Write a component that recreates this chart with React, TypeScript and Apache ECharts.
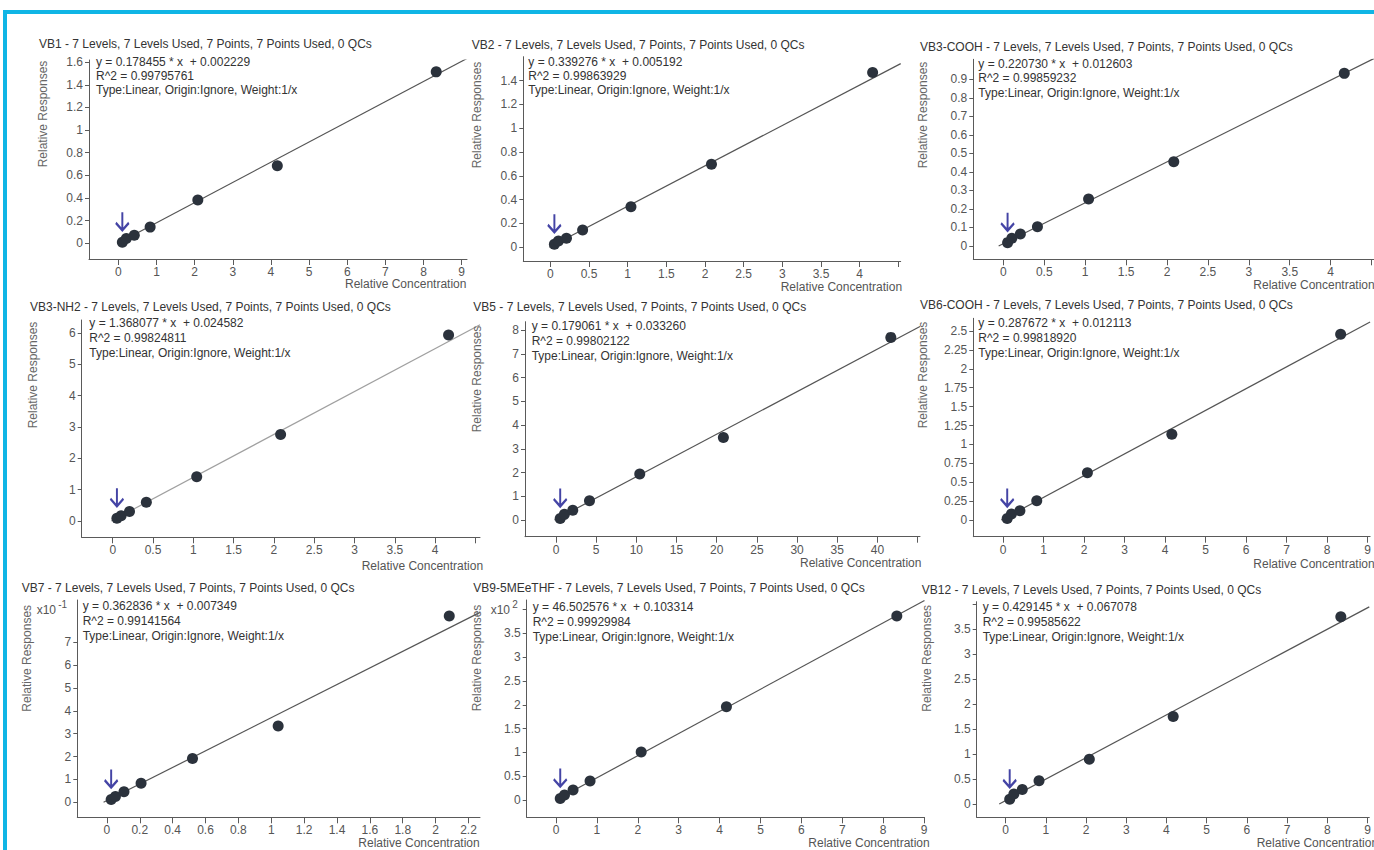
import React, { useEffect, useRef } from "react";
import * as echarts from "echarts";

// ---------- data ----------
const titles = [
  "VB1 - 7 Levels, 7 Levels Used, 7 Points, 7 Points Used, 0 QCs",
  "VB2 - 7 Levels, 7 Levels Used, 7 Points, 7 Points Used, 0 QCs",
  "VB3-COOH - 7 Levels, 7 Levels Used, 7 Points, 7 Points Used, 0 QCs",
  "VB3-NH2 - 7 Levels, 7 Levels Used, 7 Points, 7 Points Used, 0 QCs",
  "VB5 - 7 Levels, 7 Levels Used, 7 Points, 7 Points Used, 0 QCs",
  "VB6-COOH - 7 Levels, 7 Levels Used, 7 Points, 7 Points Used, 0 QCs",
  "VB7 - 7 Levels, 7 Levels Used, 7 Points, 7 Points Used, 0 QCs",
  "VB9-5MEeTHF - 7 Levels, 7 Levels Used, 7 Points, 7 Points Used, 0 QCs",
  "VB12 - 7 Levels, 7 Levels Used, 7 Points, 7 Points Used, 0 QCs",
];
const slopes = [0.178455, 0.339276, 0.22073, 1.368077, 0.179061, 0.287672, 0.362836, 46.502576, 0.429145];
const intercepts = [0.002229, 0.005192, 0.012603, 0.024582, 0.03326, 0.012113, 0.007349, 0.103314, 0.067078];
const rSquared = ["0.99795761", "0.99863929", "0.99859232", "0.99824811", "0.99802122", "0.99818920", "0.99141564", "0.99929984", "0.99585622"];

const concA = [0.104, 0.208, 0.417, 0.833, 2.083, 4.167, 8.333];
const concB = [0.052, 0.104, 0.208, 0.417, 1.042, 2.083, 4.167];
const concC = [0.521, 1.042, 2.083, 4.167, 10.42, 20.83, 41.67];
const concD = [0.026, 0.052, 0.104, 0.208, 0.521, 1.042, 2.083];

const respVB1 = [0.008, 0.041, 0.071, 0.142, 0.381, 0.685, 1.515];
const respVB2 = [0.025, 0.053, 0.076, 0.145, 0.341, 0.697, 1.467];
const respVB3COOH = [0.018, 0.042, 0.065, 0.104, 0.254, 0.455, 0.932];
const respVB3NH2 = [0.09, 0.17, 0.3, 0.595, 1.41, 2.76, 5.93];
const respVB5 = [0.07, 0.24, 0.41, 0.81, 1.94, 3.48, 7.69];
const respVB6COOH = [0.022, 0.08, 0.123, 0.255, 0.626, 1.134, 2.456];
const respVB7 = [0.012, 0.025, 0.046, 0.083, 0.192, 0.334, 0.815];
const respVB9 = [3, 10.5, 21, 40, 100.8, 196, 386.4];
const respVB12 = [0.094, 0.2, 0.29, 0.467, 0.896, 1.75, 3.75];

const concs = [concA, concB, concB, concB, concC, concA, concD, concA, concA];
const resps = [respVB1, respVB2, respVB3COOH, respVB3NH2, respVB5, respVB6COOH, respVB7, respVB9, respVB12];

// tick labels
const yLab1 = [0, 0.2, 0.4, 0.6, 0.8, 1, 1.2, 1.4, 1.6];
const yLab2 = [0, 0.2, 0.4, 0.6, 0.8, 1, 1.2, 1.4];
const yLab3 = [0, 0.1, 0.2, 0.3, 0.4, 0.5, 0.6, 0.7, 0.8, 0.9];
const yLab4 = [0, 1, 2, 3, 4, 5, 6];
const yLab5 = [0, 1, 2, 3, 4, 5, 6, 7, 8];
const yLab6 = [0, 0.25, 0.5, 0.75, 1, 1.25, 1.5, 1.75, 2, 2.25, 2.5];
const yLab7 = [0, 0.1, 0.2, 0.3, 0.4, 0.5, 0.6, 0.7];
const yLab8 = [0, 50, 100, 150, 200, 250, 300, 350];
const yTick8 = [0, 50, 100, 150, 200, 250, 300, 350, 400];
const yLab9 = [0, 0.5, 1, 1.5, 2, 2.5, 3, 3.5];
const yTick9 = [0, 0.5, 1, 1.5, 2, 2.5, 3, 3.5, 4];
const xLab0to9 = [0, 1, 2, 3, 4, 5, 6, 7, 8, 9];
const xLabHalf = [0, 0.5, 1, 1.5, 2, 2.5, 3, 3.5, 4];
const xTickHalf = [0, 0.5, 1, 1.5, 2, 2.5, 3, 3.5, 4, 4.5];
const xLab5 = [0, 5, 10, 15, 20, 25, 30, 35, 40];
const xTick5 = [0, 5, 10, 15, 20, 25, 30, 35, 40, 45];
const xLab7 = [0, 0.2, 0.4, 0.6, 0.8, 1, 1.2, 1.4, 1.6, 1.8, 2, 2.2];

const yLabels = [yLab1, yLab2, yLab3, yLab4, yLab5, yLab6, yLab7, yLab8, yLab9];
const yTicks = [yLab1, yLab2, yLab3, yLab4, yLab5, yLab6, yLab7, yTick8, yTick9];
const xLabels = [xLab0to9, xLabHalf, xLabHalf, xLabHalf, xLab5, xLab0to9, xLab7, xLab0to9, xLab0to9];
const xTicks = [xLab0to9, xTickHalf, xTickHalf, xTickHalf, xTick5, xLab0to9, xLab7, xLab0to9, xLab0to9];
const yScale = [1, 1, 1, 1, 1, 1, 10, 0.01, 1];
const exponents = ["", "", "", "", "", "", "-1", "2", ""];

// ---------- layout (pixels & axis ranges) ----------
const layout = [
  { gl: 89, gt: 60, gr: 467, gb: 259, xMin: -0.77, xMax: 9.14, yMin: -0.14, yMax: 1.62, tx: 39, ty: 44, ex: 96, ey: 62, es: 14, ynx: 43, yny: 114, xnx: 345, xny: 284 },
  { gl: 523.3, gt: 56.7, gr: 900.7, gb: 261, xMin: -0.35, xMax: 4.53, yMin: -0.115, yMax: 1.6, tx: 471.7, ty: 45, ex: 528.3, ey: 61.7, es: 14, ynx: 476.7, yny: 115, xnx: 780.7, xny: 286.7 },
  { gl: 973.3, gt: 59.3, gr: 1374, gb: 259.3, xMin: -0.367, xMax: 4.53, yMin: -0.072, yMax: 1.008, tx: 920, ty: 46.7, ex: 978.3, ey: 64, es: 14.3, ynx: 923.3, yny: 115, xnx: 1253.3, xny: 285 },
  { gl: 81.7, gt: 320, gr: 480, gb: 537.3, xMin: -0.385, xMax: 4.557, yMin: -0.52, yMax: 6.41, tx: 30, ty: 306.7, ex: 89.3, ey: 323.3, es: 15, ynx: 33.3, yny: 375, xnx: 361.7, xny: 566 },
  { gl: 525, gt: 321.7, gr: 920, gb: 536.7, xMin: -3.86, xMax: 45.3, yMin: -0.7, yMax: 8.35, tx: 473.3, ty: 307, ex: 531.7, ey: 326, es: 15, ynx: 476.7, yny: 379, xnx: 800, xny: 563.3 },
  { gl: 973.3, gt: 318.3, gr: 1374, gb: 536.7, xMin: -0.733, xMax: 9.06, yMin: -0.22, yMax: 2.668, tx: 920, ty: 305, ex: 978.3, ey: 323.3, es: 15, ynx: 923.3, yny: 375, xnx: 1253.3, xny: 564 },
  { gl: 77.3, gt: 600, gr: 480, gb: 817.3, xMin: -0.18, xMax: 2.27, yMin: -0.0656, yMax: 0.885, tx: 21.7, ty: 588.3, ex: 82.7, ey: 606, es: 15, ynx: 26.7, yny: 658.3, xnx: 358.3, xny: 842.5, px: 36.7, py: 610 },
  { gl: 526.7, gt: 600, gr: 924.5, gb: 817.3, xMin: -0.716, xMax: 9.01, yMin: -36.3, yMax: 420, tx: 473.3, ty: 588.3, ex: 532.7, ey: 606.7, es: 15, ynx: 477.3, yny: 658, xnx: 808.3, xny: 842.5, px: 490.7, py: 610 },
  { gl: 976.7, gt: 601.7, gr: 1376, gb: 817.3, xMin: -0.716, xMax: 9.04, yMin: -0.267, yMax: 4.05, tx: 921.7, ty: 590, ex: 982.7, ey: 606.7, es: 15, ynx: 926.7, yny: 658.3, xnx: 1256.7, xny: 842.5 },
];

const FONT = "'Liberation Sans', Arial, sans-serif";
const AXIS_COLOR = "#5a5a5a";
const LABEL_COLOR = "#555";
const TEXT_COLOR = "#333";
const POINT_COLOR = "#2b323c";
const ARROW_COLOR = "#15158e";
const FIT_COLORS = ["#555", "#555", "#555", "#a0a0a0", "#555", "#555", "#555", "#555", "#555"];

function fmt(v: number, s: number) {
  return String(Math.round(v * s * 1000) / 1000);
}

function buildOption() {
  const grid: any[] = [];
  const xAxis: any[] = [];
  const yAxis: any[] = [];
  const series: any[] = [];
  const graphic: any[] = [];

  graphic.push({ type: "rect", shape: { x: 3, y: 10, width: 1371, height: 4 }, style: { fill: "#10b5e5" }, silent: true });
  graphic.push({ type: "rect", shape: { x: 3, y: 10, width: 4, height: 840 }, style: { fill: "#10b5e5" }, silent: true });

  layout.forEach((L, i) => {
    grid.push({ left: L.gl, top: L.gt, width: L.gr - L.gl, height: L.gb - L.gt, containLabel: false });
    xAxis.push({
      type: "value",
      gridIndex: i,
      min: L.xMin,
      max: L.xMax,
      splitLine: { show: false },
      axisLine: { show: true, onZero: false, lineStyle: { color: AXIS_COLOR, width: 1 } },
      axisTick: { show: true, inside: false, length: 6, customValues: xTicks[i], lineStyle: { color: AXIS_COLOR } },
      axisLabel: { show: true, customValues: xLabels[i], margin: 7, color: LABEL_COLOR, fontSize: 12, fontFamily: FONT, formatter: (v: number) => fmt(v, 1) },
    });
    yAxis.push({
      type: "value",
      gridIndex: i,
      min: L.yMin,
      max: L.yMax,
      splitLine: { show: false },
      axisLine: { show: true, onZero: false, lineStyle: { color: AXIS_COLOR, width: 1 } },
      axisTick: { show: true, inside: false, length: 4, customValues: yTicks[i], lineStyle: { color: AXIS_COLOR } },
      axisLabel: { show: true, customValues: yLabels[i], margin: 6, color: LABEL_COLOR, fontSize: 12, fontFamily: FONT, formatter: (v: number) => fmt(v, yScale[i]) },
    });

    const m = slopes[i];
    const b = intercepts[i];
    const x0 = -b / m;
    series.push({
      type: "line",
      xAxisIndex: i,
      yAxisIndex: i,
      data: [
        [x0, 0],
        [L.xMax, m * L.xMax + b],
      ],
      showSymbol: false,
      symbol: "none",
      lineStyle: { color: FIT_COLORS[i], width: 1.2 },
      clip: true,
      z: 2,
      silent: true,
    });
    const pts = concs[i].map((c, k) => [c, resps[i][k]]);
    series.push({
      type: "scatter",
      xAxisIndex: i,
      yAxisIndex: i,
      data: pts,
      symbol: "circle",
      symbolSize: 11,
      itemStyle: { color: POINT_COLOR, opacity: 1 },
      z: 3,
      silent: true,
    });
    series.push({
      type: "scatter",
      xAxisIndex: i,
      yAxisIndex: i,
      data: [pts[0]],
      symbol: "path://M6,0 L6,17 M0.5,10 L6,17 L11.5,10",
      symbolSize: [13, 18],
      symbolOffset: [0, -21],
      itemStyle: { color: "rgba(0,0,0,0)", borderColor: ARROW_COLOR, borderWidth: 2.3 },
      z: 4,
      silent: true,
    });

    const textStyle = (t: string, x: number, y: number, extra: any = {}) => ({
      type: "text",
      x,
      y,
      silent: true,
      style: { text: t, fill: TEXT_COLOR, fontSize: 12, fontFamily: FONT, textAlign: "left", textVerticalAlign: "middle", ...extra },
      z: 10,
    });

    graphic.push(textStyle(titles[i], L.tx, L.ty));
    graphic.push(textStyle("y = " + m.toFixed(6) + " * x  + " + b.toFixed(6), L.ex, L.ey));
    graphic.push(textStyle("R^2 = " + rSquared[i], L.ex, L.ey + L.es));
    graphic.push(textStyle("Type:Linear, Origin:Ignore, Weight:1/x", L.ex, L.ey + 2 * L.es));
    graphic.push({
      type: "text",
      x: L.ynx,
      y: L.yny,
      rotation: Math.PI / 2,
      silent: true,
      style: { text: "Relative Responses", fill: "#666", fontSize: 12, fontFamily: FONT, textAlign: "center", textVerticalAlign: "middle" },
      z: 10,
    });
    graphic.push({
      type: "text",
      x: L.xnx,
      y: L.xny,
      silent: true,
      style: { text: "Relative Concentration", fill: "#555", fontSize: 12, fontFamily: FONT, textAlign: "left", textVerticalAlign: "middle" },
      z: 10,
    });
    if (exponents[i]) {
      const P: any = L;
      graphic.push({
        type: "text",
        x: P.px,
        y: P.py,
        silent: true,
        style: { text: "x10", fill: LABEL_COLOR, fontSize: 12, fontFamily: FONT, textAlign: "left", textVerticalAlign: "middle" },
        z: 10,
      });
      graphic.push({
        type: "text",
        x: P.px + 21.5,
        y: P.py - 6,
        silent: true,
        style: { text: exponents[i], fill: LABEL_COLOR, fontSize: 10, fontFamily: FONT, textAlign: "left", textVerticalAlign: "middle" },
        z: 10,
      });
    }
  });

  return {
    animation: false,
    backgroundColor: "#ffffff",
    grid,
    xAxis,
    yAxis,
    series,
    graphic,
  };
}

export default function App() {
  const ref = useRef<HTMLDivElement>(null);
  useEffect(() => {
    if (!ref.current) return;
    const chart = echarts.init(ref.current, undefined, { renderer: "svg" });
    chart.setOption(buildOption() as any);
    return () => {
      chart.dispose();
    };
  }, []);
  return (
    <div
      ref={ref}
      style={{ position: "absolute", left: 0, top: 0, width: 1374, height: 850, background: "#fff" }}
    />
  );
}
